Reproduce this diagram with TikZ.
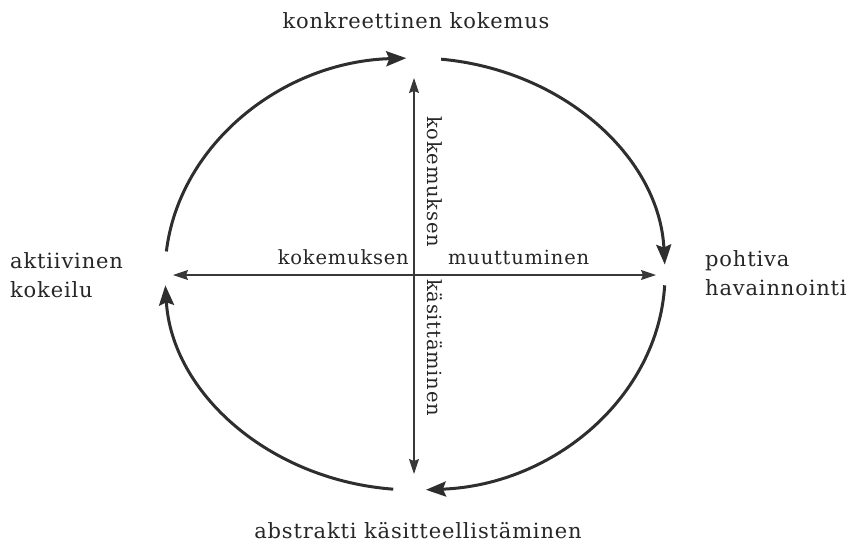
\documentclass[tikz,border=0pt]{standalone}
\usepackage{fontspec}
\setmainfont{DejaVu Serif}[LetterSpace=4]
\usetikzlibrary{arrows.meta}
\begin{document}
\begin{tikzpicture}[x=1pt,y=-1pt,
  lbl/.style={inner sep=0pt,font=\fontsize{21}{29}\selectfont,text=black!85},
  albl/.style={inner sep=0pt,font=\fontsize{19.5}{24}\selectfont,text=black!85},
  cyc/.style={line width=3pt,draw=black!82,-{Stealth[length=20pt,width=15pt,inset=3pt]}},
  axis/.style={line width=1.2pt,draw=black!78,{Stealth[length=15pt,width=10pt,inset=2pt]}-{Stealth[length=15pt,width=10pt,inset=2pt]}}]
\useasboundingbox (0,0) rectangle (858,547);
% labels
\node[lbl,anchor=base] (top) at (416,28) {konkreettinen kokemus};
\node[lbl,anchor=base] (bot) at (418,538) {abstrakti käsitteellistäminen};
\node[lbl,anchor=base west,align=left] (right) at (705,295) {pohtiva\\havainnointi};
\node[lbl,anchor=base west,align=left] (left) at (10,297) {aktiivinen\\kokeilu};
% axes
\coordinate (vt) at (414,78);
\coordinate (vb) at (414,474);
\coordinate (hl) at (173,275);
\coordinate (hr) at (656,275);
\draw[axis] (vt) -- (vb);
\draw[axis] (hl) -- (hr);
% axis labels
\node[albl,anchor=base east] (ak1) at (409,264) {kokemuksen};
\node[albl,anchor=base west] (ak2) at (448,264) {muuttuminen};
\node[albl,anchor=base west,rotate=-90] (av1) at (427,116) {kokemuksen};
\node[albl,anchor=base west,rotate=-90] (av2) at (427,279) {käsittäminen};
% cycle arcs (center 415,274; rx 250; ry 216) -- y axis points down, so angles mirrored
\coordinate (c) at (415,274);
\draw[cyc] (c) ++(-174:250 and 216) arc[start angle=-174,end angle=-92,x radius=250,y radius=216];
\draw[cyc] (c) ++(-84:250 and 216) arc[start angle=-84,end angle=-2.5,x radius=250,y radius=216];
\draw[cyc] (c) ++(3:250 and 216) arc[start angle=3,end angle=87.5,x radius=250,y radius=216];
\draw[cyc] (c) ++(95:250 and 216) arc[start angle=95,end angle=177,x radius=250,y radius=216];
\end{tikzpicture}
\end{document}
